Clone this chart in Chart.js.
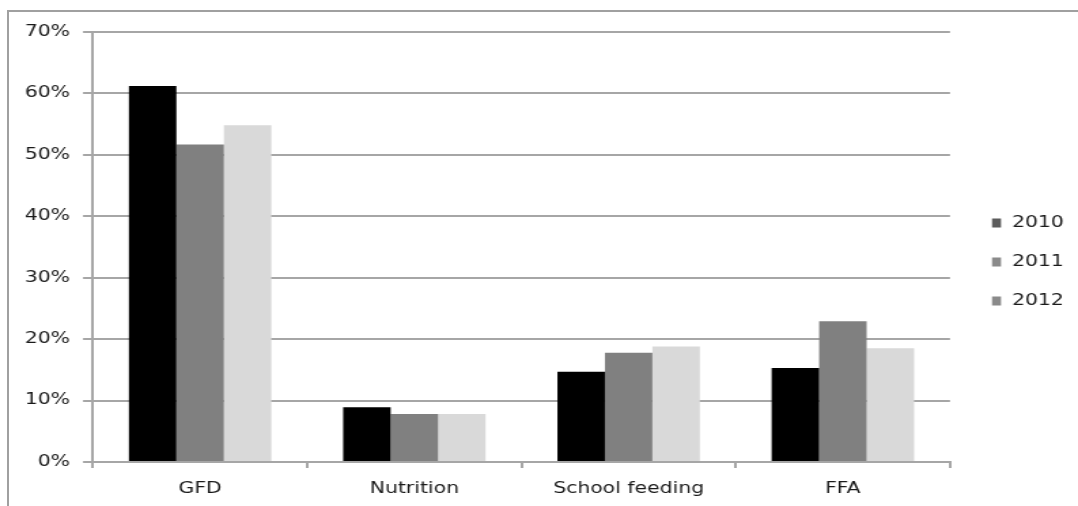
<!DOCTYPE html>
<html>
<head>
<meta charset="utf-8">
<script src="https://cdn.jsdelivr.net/npm/chart.js@4/dist/chart.umd.min.js"></script>
<style>
  html, body { margin: 0; padding: 0; background: #fff; overflow: hidden; }
  #frame {
    position: absolute; left: 7px; top: 10px; right: 0; bottom: 0;
    border-top: 2px solid #a0a0a0; border-left: 2px solid #a0a0a0;
  }
  #wrap {
    position: absolute; left: 0; top: 0; width: 793px; height: 506px;
    transform-origin: 0 0;
  }
</style>
</head>
<body>
<div id="frame"></div>
<div id="wrap"><canvas id="c"></canvas></div>
<script>
// Data
const categories = ['GFD', 'Nutrition', 'School feeding', 'FFA'];
const years = ['2010', '2011', '2012'];
const values2010 = [61.2, 8.9, 14.7, 15.3];
const values2011 = [51.7, 7.8, 17.8, 22.9];
const values2012 = [54.8, 7.8, 18.8, 18.5];
const yMin = 0, yMax = 70, yStep = 10;

// Styling
const barColors = ['#000000', '#808080', '#d9d9d9'];
const legendColors = ['#5b5b5b', '#8a8a8a', '#8a8a8a'];
const gridColor = '#a6a6a6';
const textColor = '#1a1a1a';

// The whole drawing is widened horizontally
const SX = 1078 / 793;
document.getElementById('wrap').style.transform = 'scaleX(' + SX + ')';

Chart.defaults.font.family = '"DejaVu Sans", Verdana, sans-serif';
Chart.defaults.font.size = 15;
Chart.defaults.color = textColor;

const seriesValues = [values2010, values2011, values2012];

const sideLegend = {
  id: 'sideLegend',
  afterDraw(chart) {
    const ctx = chart.ctx;
    const area = chart.chartArea;
    ctx.save();
    ctx.font = '15px "DejaVu Sans", Verdana, sans-serif';
    ctx.textBaseline = 'middle';
    ctx.textAlign = 'left';
    years.forEach((label, i) => {
      const cy = 223 + i * 39;
      const x0 = area.right + 42 / SX;
      ctx.fillStyle = legendColors[i];
      ctx.fillRect(x0, cy - 4.5, 9 / SX, 9);
      ctx.fillStyle = textColor;
      ctx.fillText(label, x0 + 20 / SX, cy + 0.5);
    });
    ctx.restore();
  }
};

new Chart(document.getElementById('c'), {
  type: 'bar',
  data: {
    labels: categories,
    datasets: years.map((y, i) => ({
      label: y,
      data: seriesValues[i],
      backgroundColor: barColors[i],
      borderWidth: 0,
      categoryPercentage: 0.665,
      barPercentage: 1.0
    }))
  },
  options: {
    responsive: true,
    maintainAspectRatio: false,
    animation: false,
    layout: { padding: { left: 0, right: 793 - 950 / SX, top: 32, bottom: 0 } },
    plugins: {
      legend: { display: false },
      tooltip: { enabled: false },
      title: { display: false }
    },
    scales: {
      x: {
        offset: true,
        grid: {
          offset: true,
          drawOnChartArea: false,
          drawTicks: true,
          tickLength: 6,
          color: gridColor,
          lineWidth: 2
        },
        border: { display: true, color: gridColor, width: 2 },
        ticks: { padding: 12, color: textColor, font: { size: 15 } },
        afterFit(scale) { scale.height = 44; }
      },
      y: {
        min: yMin,
        max: yMax,
        grid: {
          color: gridColor,
          lineWidth: 2,
          drawTicks: true,
          tickLength: 10 / SX
        },
        border: { display: true, color: gridColor, width: 2 },
        ticks: {
          stepSize: yStep,
          padding: 9.5,
          color: textColor,
          font: { size: 15 },
          callback: v => v + '%'
        },
        afterFit(scale) { scale.width = 93 / SX; }
      }
    }
  },
  plugins: [sideLegend]
});
</script>
</body>
</html>
